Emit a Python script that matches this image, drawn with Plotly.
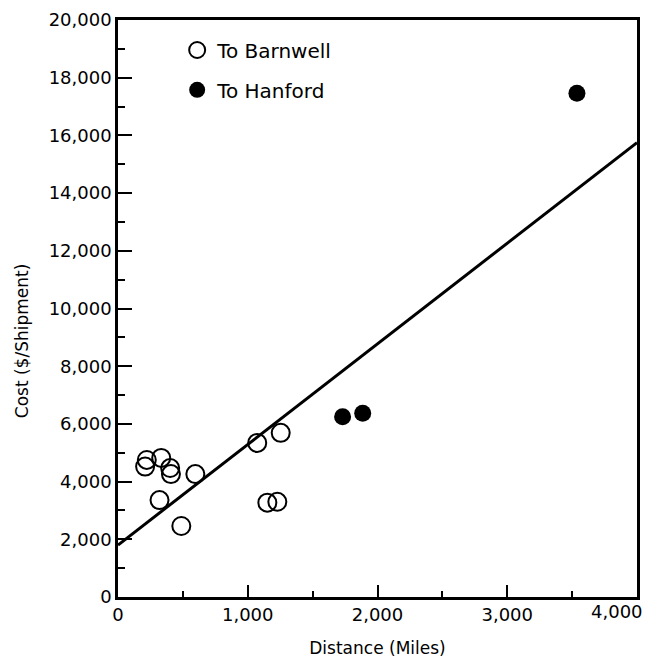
import plotly.graph_objects as go

# Data
barnwell_miles = [222, 209, 333, 402, 408, 596, 320, 488, 1073, 1254, 1151, 1228]
barnwell_cost = [4750, 4520, 4820, 4470, 4260, 4260, 3360, 2460, 5340, 5690, 3270, 3300]
hanford_miles = [1731, 1886, 3537]
hanford_cost = [6250, 6370, 17460]
fit_miles = [0, 4000]
fit_cost = [1800, 15750]

x_ticks = [0, 1000, 2000, 3000, 4000]
x_tick_labels = ["0", "1,000", "2,000", "3,000", "4,000"]
y_ticks = [0, 2000, 4000, 6000, 8000, 10000, 12000, 14000, 16000, 18000, 20000]

FONT = "DejaVu Sans, Liberation Sans, sans-serif"

fig = go.Figure()
fig.add_trace(go.Scatter(
    x=fit_miles, y=fit_cost, mode="lines",
    line=dict(color="black", width=3), showlegend=False, hoverinfo="skip"))
fig.add_trace(go.Scatter(
    x=barnwell_miles, y=barnwell_cost, mode="markers", name="To Barnwell",
    marker=dict(symbol="circle-open", size=18, color="black", line=dict(width=2)),
    legend="legend"))
fig.add_trace(go.Scatter(
    x=hanford_miles, y=hanford_cost, mode="markers", name="To Hanford",
    marker=dict(symbol="circle", size=17, color="black"),
    legend="legend2"))

axis_common = dict(
    showgrid=False, zeroline=False, showline=True, linecolor="black", linewidth=2.5,
    mirror=True, ticks="inside", tickcolor="black", tickwidth=2,
    tickformat=",", tickfont=dict(family=FONT, size=18, color="black"),
    automargin=False,
)

# The last x tick label sits against the right edge, so it is drawn right-aligned
fig.update_xaxes(
    **axis_common, range=[0, 4000], tickvals=x_ticks,
    ticktext=x_tick_labels[:-1] + [""], ticklen=12,
    minor=dict(ticks="inside", ticklen=6, dtick=500, tickcolor="black", tickwidth=2),
    title=dict(text="Distance (Miles)", font=dict(family=FONT, size=17, color="black"), standoff=18),
)
fig.update_yaxes(
    **axis_common, range=[0, 20000], tickvals=y_ticks, ticklen=14,
    minor=dict(ticks="inside", ticklen=7, dtick=1000, tickcolor="black", tickwidth=2),
)

fig.add_annotation(
    text=x_tick_labels[-1], showarrow=False, xref="x", yref="paper",
    x=x_ticks[-1], y=0, xanchor="right", yanchor="top", xshift=8, yshift=-2,
    font=dict(family=FONT, size=18, color="black"),
)
fig.add_annotation(
    text="Cost ($/Shipment)", textangle=-90, showarrow=False,
    xref="paper", yref="paper", x=-0.185, y=0.445, xanchor="center", yanchor="middle",
    font=dict(family=FONT, size=17, color="black"),
)

leg_common = dict(
    x=0.114, xanchor="left", yanchor="middle", bgcolor="rgba(0,0,0,0)",
    font=dict(family=FONT, size=20, color="black"), borderwidth=0,
)
# The page body has an 8px default margin, so the figure is shifted by 8px.
fig.update_layout(
    width=645, height=654,
    margin=dict(l=110, r=16, t=12, b=65),
    paper_bgcolor="white", plot_bgcolor="white",
    legend=dict(**leg_common, y=0.948),
    legend2=dict(**leg_common, y=0.879),
)

fig.write_html("out.html")
